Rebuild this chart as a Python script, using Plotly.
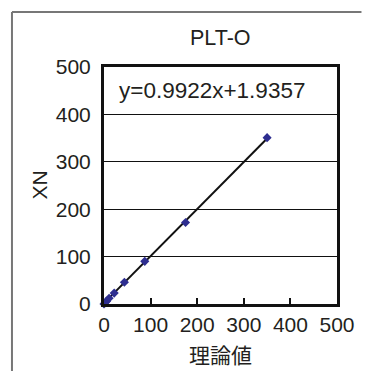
import plotly.graph_objects as go

# data
theory = [0, 2.7, 5.5, 10.9, 21.9, 43.75, 87.5, 175, 350]
xn = [0, 3, 6, 12, 23, 46, 90, 172, 351]
slope = 0.9922
intercept = 1.9357
title_text = "PLT-O"
x_title = "理論値"
y_title = "XN"
tick_vals = [0, 100, 200, 300, 400, 500]

font_family = "Liberation Sans, Arial, Noto Sans CJK JP, sans-serif"
txt_color = "#231f20"

fit_x = [min(theory), max(theory)]
fit_y = [slope * v + intercept for v in fit_x]

fig = go.Figure()
fig.add_trace(go.Scatter(x=fit_x, y=fit_y, mode="lines",
                         line=dict(color="#111111", width=2), showlegend=False,
                         hoverinfo="skip"))
fig.add_trace(go.Scatter(x=theory, y=xn, mode="markers",
                         marker=dict(symbol="diamond", size=7, color="#2e2e90"),
                         showlegend=False, cliponaxis=False))

L, R, T, B = 104, 25, 67, 67
W, H = 367, 371
pw, ph = W - L - R, H - T - B

def px2paper_x(px):
    return (px - L) / pw

def px2paper_y(py):
    return (H - B - py) / ph

frame_color = "#777777"
fig.add_shape(type="line", xref="paper", yref="paper",
              x0=px2paper_x(10), y0=px2paper_y(371), x1=px2paper_x(10), y1=px2paper_y(12),
              line=dict(color=frame_color, width=2))
fig.add_shape(type="line", xref="paper", yref="paper",
              x0=px2paper_x(10), y0=px2paper_y(12), x1=px2paper_x(367), y1=px2paper_y(12),
              line=dict(color=frame_color, width=2))

fig.add_annotation(text=f"y={slope}x+{intercept}", xref="paper", yref="paper",
                   x=px2paper_x(117), y=px2paper_y(90), xanchor="left", yanchor="middle",
                   showarrow=False, font=dict(size=22.5, color=txt_color, family=font_family))

fig.add_annotation(text=title_text, xref="paper", yref="paper",
                   x=0.5, y=px2paper_y(38), xanchor="center", yanchor="middle",
                   showarrow=False, font=dict(size=21.5, color=txt_color, family=font_family))
fig.add_annotation(text=x_title, xref="paper", yref="paper",
                   x=0.5, y=px2paper_y(355), xanchor="center", yanchor="middle",
                   showarrow=False, font=dict(size=21, color=txt_color, family=font_family))
fig.add_annotation(text=y_title, xref="paper", yref="paper",
                   x=px2paper_x(38), y=px2paper_y(185), xanchor="center", yanchor="middle",
                   textangle=-90,
                   showarrow=False, font=dict(size=21, color=txt_color, family=font_family))

fig.update_xaxes(range=[0, 500], tickvals=tick_vals, showgrid=False, zeroline=False,
                 showline=True, mirror=True, linecolor="#111111", linewidth=3,
                 ticks="inside", ticklen=6, tickwidth=2, tickcolor="#111111",
                 tickfont=dict(size=21, color=txt_color, family=font_family))
fig.update_yaxes(range=[0, 500], tickvals=tick_vals, showgrid=True, gridcolor="#111111",
                 gridwidth=1, zeroline=False,
                 showline=True, mirror=True, linecolor="#111111", linewidth=3,
                 ticks="", ticklabelstandoff=6,
                 tickfont=dict(size=21, color=txt_color, family=font_family))

fig.update_layout(width=W, height=H, margin=dict(l=L, r=R, t=T, b=B),
                  plot_bgcolor="white", paper_bgcolor="white")

fig.write_html("out.html")
